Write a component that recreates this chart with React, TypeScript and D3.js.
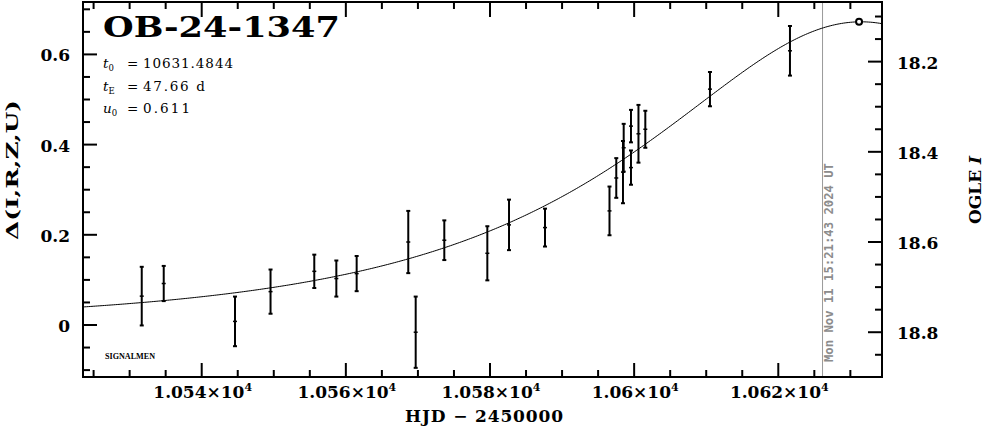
import React from 'react';
import * as d3 from 'd3';

const W = 986;
const H = 434;

// Event / model parameters (as printed on the chart)
const eventName = 'OB-24-1347';
const t0 = 10631.4844;
const tE = 47.66;
const u0 = 0.611;
const baseMag = 18.784;
const nowHJD = 10626.14;
const nowLabel = 'Mon Nov 11 15:21:43 2024 UT';

// Observations: HJD-2450000, Δ mag, error
const obsT = [10531.68, 10534.73, 10544.62, 10549.55, 10555.62, 10558.68, 10561.5, 10568.66, 10569.69, 10573.66,
  10579.63, 10582.64, 10587.63, 10596.58, 10597.52, 10598.55, 10598.45, 10599.56, 10599.56, 10600.6,
  10601.55, 10610.52, 10621.62];
const obsD = [0.064, 0.092, 0.008, 0.074, 0.119, 0.103, 0.114, 0.184, -0.016, 0.188,
  0.159, 0.222, 0.216, 0.253, 0.326, 0.393, 0.339, 0.441, 0.349, 0.424,
  0.434, 0.523, 0.608];
const obsErr = [0.065, 0.039, 0.055, 0.049, 0.037, 0.040, 0.039, 0.069, 0.079, 0.044,
  0.060, 0.056, 0.042, 0.054, 0.044, 0.053, 0.069, 0.036, 0.038, 0.064,
  0.041, 0.038, 0.055];

const xMajorTicks = [10540, 10560, 10580, 10600, 10620];
const xTickMantissa = ['1.054', '1.056', '1.058', '1.06', '1.062'];
const yMajorTicks = [0, 0.2, 0.4, 0.6];
const yTickLabels = ['0', '0.2', '0.4', '0.6'];
const magMajorTicks = [18.2, 18.4, 18.6, 18.8];
const magTickLabels = ['18.2', '18.4', '18.6', '18.8'];

const L = 83, R = 882, T = 2, B = 377;
const xDomain: [number, number] = [10523.53, 10634.39];
const yDomain: [number, number] = [-0.1153, 0.7162];

const x = d3.scaleLinear().domain(xDomain).range([L, R]);
const y = d3.scaleLinear().domain(yDomain).range([B, T]);
const yMag = d3.scaleLinear().domain([baseMag - yDomain[0], baseMag - yDomain[1]]).range([B, T]);

function paczynski(t: number) {
  const tau = (t - t0) / tE;
  const u2 = u0 * u0 + tau * tau;
  const A = (u2 + 2) / (Math.sqrt(u2) * Math.sqrt(u2 + 4));
  return 2.5 * Math.log10(A);
}

const serif = "'DejaVu Serif', 'Liberation Serif', serif";

export default function App() {
  const samples = d3.range(xDomain[0], xDomain[1] + 0.01, 0.25);
  const model = d3.line<number>().x((t) => x(t)).y((t) => y(paczynski(t)))(samples) || '';

  const xMinor = d3.range(10525, 10635, 5).filter((t) => !xMajorTicks.includes(t));
  const yMinor = d3.range(-0.1, 0.72, 0.05).map((v) => Math.round(v * 100) / 100).filter((v) => !yMajorTicks.includes(v));
  const magMinor = d3.range(18.1, 18.9, 0.05).map((v) => Math.round(v * 100) / 100).filter((v) => !magMajorTicks.includes(v) && yMag(v) < B - 1);

  const major = 14, minor = 7;

  return (
    <svg width={W} height={H} style={{ position: 'absolute', left: 0, top: 0, background: '#fff' }}>
      <defs>
        <clipPath id="plot"><rect x={L} y={T} width={R - L} height={B - T} /></clipPath>
      </defs>
      <rect x={0} y={0} width={W} height={H} fill="#fff" />

      {/* current time line */}
      <line x1={x(nowHJD)} x2={x(nowHJD)} y1={T} y2={B} stroke="#999" strokeWidth={1} />
      <text transform={`translate(${x(nowHJD) + 10},${362}) rotate(-90)`} fontFamily="'DejaVu Sans Mono', 'Liberation Mono', monospace"
        fontWeight="bold" fontSize={12.5} fill="#8c8c8c" textLength={199} lengthAdjust="spacingAndGlyphs">{nowLabel}</text>

      {/* model */}
      <path d={model} fill="none" stroke="#000" strokeWidth={1} clipPath="url(#plot)" />

      {/* data */}
      {obsT.map((t, i) => {
        const cx = x(t);
        const y1 = y(obsD[i] + obsErr[i]);
        const y2 = y(obsD[i] - obsErr[i]);
        const cy = y(obsD[i]);
        return (
          <g key={i} stroke="#000" strokeWidth={2}>
            <line x1={cx} x2={cx} y1={y1} y2={y2} />
            <line x1={cx - 2} x2={cx + 2} y1={y1} y2={y1} />
            <line x1={cx - 2} x2={cx + 2} y1={y2} y2={y2} />
            <line x1={cx - 2} x2={cx + 2} y1={cy} y2={cy} strokeWidth={1.5} />
          </g>
        );
      })}
      <circle cx={x(t0) - 2} cy={y(paczynski(t0))} r={3} fill="#fff" stroke="#000" strokeWidth={2} />

      {/* frame */}
      <rect x={L} y={T} width={R - L} height={B - T} fill="none" stroke="#000" strokeWidth={2} />

      {/* ticks */}
      <g stroke="#000" strokeWidth={2}>
        {xMajorTicks.map((t) => (
          <g key={'xm' + t}>
            <line x1={x(t)} x2={x(t)} y1={B} y2={B - major} />
            <line x1={x(t)} x2={x(t)} y1={T} y2={T + major + 1} />
          </g>
        ))}
        {xMinor.map((t) => (
          <g key={'xn' + t}>
            <line x1={x(t)} x2={x(t)} y1={B} y2={B - minor} />
            <line x1={x(t)} x2={x(t)} y1={T} y2={T + minor} />
          </g>
        ))}
        {yMajorTicks.map((v) => <line key={'ym' + v} x1={L} x2={L + major} y1={y(v)} y2={y(v)} />)}
        {yMinor.map((v) => <line key={'yn' + v} x1={L} x2={L + minor} y1={y(v)} y2={y(v)} />)}
        {magMajorTicks.map((v) => <line key={'mm' + v} x1={R} x2={R - major} y1={yMag(v)} y2={yMag(v)} />)}
        {magMinor.map((v) => <line key={'mn' + v} x1={R} x2={R - minor} y1={yMag(v)} y2={yMag(v)} />)}
      </g>

      {/* tick labels */}
      <g fontFamily={serif} fontWeight="bold" fontSize={17} fill="#000">
        {xMajorTicks.map((t, i) => (
          <text key={'xl' + t} x={x(t) + 1} y={397.5} textAnchor="middle">
            {xTickMantissa[i]}×10<tspan fontSize={11} dy={-7}>4</tspan>
          </text>
        ))}
        {yMajorTicks.map((v, i) => (
          <text key={'yl' + v} x={70} y={y(v) + 7} textAnchor="end">{yTickLabels[i]}</text>
        ))}
        {magMajorTicks.map((v, i) => (
          <text key={'ml' + v} x={897} y={yMag(v) + 7} textAnchor="start">{magTickLabels[i]}</text>
        ))}
        <text x={484} y={421.5} textAnchor="middle" textLength={158} lengthAdjust="spacing">HJD − 2450000</text>
        <text transform={`translate(18,170) rotate(-90)`} textAnchor="middle" fontSize={17.5} textLength={140} lengthAdjust="spacingAndGlyphs">Δ(I,R,Z,U)</text>
        <text transform={`translate(981,190) rotate(-90)`} textAnchor="middle">OGLE <tspan fontStyle="italic">I</tspan></text>
      </g>

      {/* title & parameters */}
      <text x={103} y={37} fontFamily={serif} fontWeight="bold" fontSize={28} textLength={237} lengthAdjust="spacingAndGlyphs">{eventName}</text>
      <g fontFamily={serif} fontSize={13.5} fill="#000">
        <text x={103} y={68}><tspan fontStyle="italic">t</tspan><tspan fontSize={8.5} dy={3}>0</tspan></text>
        <text x={127} y={68}>=</text>
        <text x={143} y={68} textLength={90} lengthAdjust="spacing">{t0.toFixed(4)}</text>
        <text x={103} y={90.5}><tspan fontStyle="italic">t</tspan><tspan fontSize={8.5} dy={3}>E</tspan></text>
        <text x={127} y={90.5}>=</text>
        <text x={143} y={90.5} textLength={62} lengthAdjust="spacing">{tE.toFixed(2)} d</text>
        <text x={103} y={112.5}><tspan fontStyle="italic">u</tspan><tspan fontSize={8.5} dy={3}>0</tspan></text>
        <text x={127} y={112.5}>=</text>
        <text x={143} y={112.5} textLength={47} lengthAdjust="spacing">{u0.toFixed(3)}</text>
      </g>
      <text x={105} y={359} fontFamily="'Liberation Serif', serif" fontWeight="bold" fontSize={9} textLength={50} lengthAdjust="spacingAndGlyphs">SIGNALMEN</text>
    </svg>
  );
}
